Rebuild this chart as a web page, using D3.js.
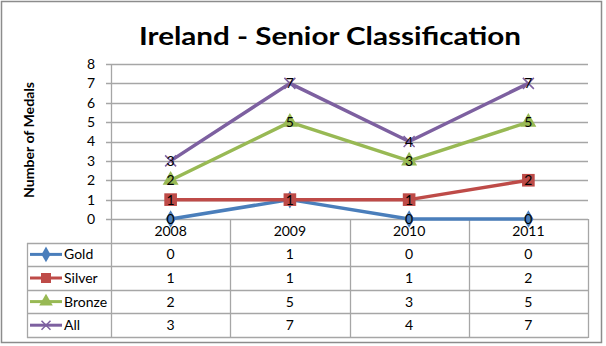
<!DOCTYPE html>
<html>
<head>
<meta charset="utf-8">
<script src="https://cdn.jsdelivr.net/npm/d3@7"></script>
<style>
  html, body { margin: 0; padding: 0; background: #fff; }
  svg { display: block; font-family: Lato, "Open Sans", sans-serif; }
</style>
</head>
<body>
<svg id="chart" width="606" height="346"></svg>
<script>
// Medal counts per year, Irish senior classification
const years = ["2008", "2009", "2010", "2011"];
const gold = [0, 1, 0, 0];
const silver = [1, 1, 1, 2];
const bronze = [2, 5, 3, 5];
const all = [3, 7, 4, 7];
const yTicks = [0, 1, 2, 3, 4, 5, 6, 7, 8];

const series = [
  { name: "Gold", values: gold, color: "#4a7ebb", symbol: "diamond" },
  { name: "Silver", values: silver, color: "#be4b48", symbol: "square" },
  { name: "Bronze", values: bronze, color: "#98b954", symbol: "triangle" },
  { name: "All", values: all, color: "#7d60a0", symbol: "cross" }
];

const svg = d3.select("#chart");

// chart frame
svg.append("rect")
  .attr("x", 1.5).attr("y", 1.5).attr("width", 600).attr("height", 341)
  .attr("fill", "#fff").attr("stroke", "#8c8c8c").attr("stroke-width", 1.5);

const plotLeft = 111, plotRight = 588, plotTop = 64, plotBottom = 219;
const tableLeft = 27;

const x = d3.scaleBand().domain(years).range([plotLeft, plotRight]);
const y = d3.scaleLinear().domain([0, 8]).range([plotBottom, plotTop]);

// title
svg.append("text")
  .attr("x", 330).attr("y", 45)
  .attr("text-anchor", "middle")
  .attr("font-size", 25).attr("font-weight", "bold")
  .attr("textLength", 382).attr("lengthAdjust", "spacingAndGlyphs")
  .attr("fill", "#000")
  .text("Ireland - Senior Classification");

// y-axis title
svg.append("text")
  .attr("transform", "translate(34,140) rotate(-90)")
  .attr("text-anchor", "middle")
  .attr("font-size", 13).attr("font-weight", "bold")
  .attr("textLength", 116).attr("lengthAdjust", "spacingAndGlyphs")
  .text("Number of Medals");

const gridColor = "#a6a6a6";

// horizontal gridlines
svg.append("g")
  .selectAll("line")
  .data(yTicks)
  .join("line")
  .attr("x1", plotLeft - 5).attr("x2", plotRight)
  .attr("y1", d => Math.round(y(d)) + 0.5).attr("y2", d => Math.round(y(d)) + 0.5)
  .attr("stroke", gridColor).attr("stroke-width", 1.3);

// y axis labels via d3 axis
const yAxis = svg.append("g")
  .attr("transform", `translate(${plotLeft},0)`)
  .call(d3.axisLeft(y).tickValues(yTicks).tickSize(5).tickPadding(11));
yAxis.select(".domain").remove();
yAxis.selectAll(".tick line").remove();
yAxis.selectAll("text")
  .attr("font-family", "Lato, 'Open Sans', sans-serif")
  .attr("font-size", 14).attr("fill", "#000");

// data table beneath the plot
const rowH = 23.6;
const rowEdges = d3.range(6).map(i => plotBottom + i * rowH);
const colEdges = years.map(d => x(d)).concat([plotRight]);
const tbl = svg.append("g").attr("stroke", gridColor).attr("stroke-width", 1.3);

rowEdges.slice(1).forEach(ry => {
  tbl.append("line")
    .attr("x1", tableLeft).attr("x2", plotRight)
    .attr("y1", Math.round(ry) + 0.5).attr("y2", Math.round(ry) + 0.5);
});
tbl.append("line")
  .attr("x1", tableLeft + 0.5).attr("x2", tableLeft + 0.5)
  .attr("y1", Math.round(rowEdges[1])).attr("y2", Math.round(rowEdges[5]) + 1);
colEdges.forEach((cx, i) => {
  tbl.append("line")
    .attr("x1", Math.round(cx) + 0.5).attr("x2", Math.round(cx) + 0.5)
    .attr("y1", i === 0 ? plotTop : plotBottom).attr("y2", Math.round(rowEdges[5]) + 1);
});

// year header labels
svg.append("g")
  .selectAll("text")
  .data(years)
  .join("text")
  .attr("x", d => x(d) + x.bandwidth() / 2)
  .attr("y", plotBottom + 17)
  .attr("text-anchor", "middle")
  .attr("font-size", 14)
  .text(d => d);

const symbolTypes = {
  diamond: d3.symbolDiamond,
  square: d3.symbolSquare,
  triangle: d3.symbolTriangle
};

function drawMarker(g, s, cx, cy, big) {
  if (s.symbol === "cross") {
    const r = big ? 5.5 : 4.5;
    g.append("path")
      .attr("d", `M${cx - r},${cy - r}L${cx + r},${cy + r}M${cx - r},${cy + r}L${cx + r},${cy - r}`)
      .attr("stroke", s.color).attr("stroke-width", 1.5).attr("fill", "none");
  } else {
    const size = s.symbol === "square" ? (big ? 160 : 100) : (s.symbol === "triangle" ? (big ? 110 : 80) : (big ? 90 : 70));
    g.append("path")
      .attr("transform", `translate(${cx},${cy})`)
      .attr("d", d3.symbol().type(symbolTypes[s.symbol]).size(size)())
      .attr("fill", s.color);
  }
}

// series lines, markers and value labels
const line = d3.line()
  .x((d, i) => x(years[i]) + x.bandwidth() / 2)
  .y(d => y(d));

series.forEach(s => {
  const g = svg.append("g");
  g.append("path")
    .datum(s.values)
    .attr("d", line)
    .attr("fill", "none")
    .attr("stroke", s.color)
    .attr("stroke-width", 3.5)
    .attr("stroke-linejoin", "round");
  s.values.forEach((v, i) => {
    drawMarker(g, s, x(years[i]) + x.bandwidth() / 2, y(v), true);
  });
  g.selectAll("text")
    .data(s.values)
    .join("text")
    .attr("x", (d, i) => x(years[i]) + x.bandwidth() / 2)
    .attr("y", d => y(d) + 5)
    .attr("text-anchor", "middle")
    .attr("font-size", 14)
    .attr("fill", "#000")
    .text(d => d);
});

// table rows: legend key, series name, values
series.forEach((s, r) => {
  const cy = (rowEdges[r + 1] + rowEdges[r + 2]) / 2;
  const g = svg.append("g");
  g.append("line")
    .attr("x1", 30).attr("x2", 62)
    .attr("y1", cy).attr("y2", cy)
    .attr("stroke", s.color).attr("stroke-width", 3);
  drawMarker(g, s, 46, cy, false);
  g.append("text")
    .attr("x", 64).attr("y", cy + 5)
    .attr("font-size", 14)
    .text(s.name);
  g.selectAll(".val")
    .data(s.values)
    .join("text")
    .attr("class", "val")
    .attr("x", (d, i) => x(years[i]) + x.bandwidth() / 2)
    .attr("y", cy + 5)
    .attr("text-anchor", "middle")
    .attr("font-size", 14)
    .text(d => d);
});
</script>
</body>
</html>
